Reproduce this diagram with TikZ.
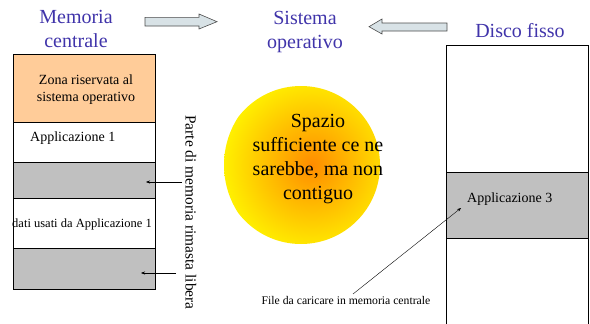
\documentclass[tikz,border=0pt]{standalone}
\usepackage{fontspec}
\setmainfont{Liberation Serif}
\usetikzlibrary{arrows.meta}
\definecolor{ttl}{RGB}{64,52,170}
\definecolor{osorange}{RGB}{255,204,153}
\definecolor{freegray}{RGB}{192,192,192}
\definecolor{barrow}{RGB}{216,226,230}
\tikzset{
  ttltext/.style={text=ttl,font=\fontsize{20}{24}\selectfont,align=center},
  cell/.style={draw=black,line width=0.8pt},
  small/.style={font=\fontsize{14}{17}\selectfont,align=center},
  ptr/.style={-{Stealth[length=4pt,width=3pt]},line width=0.4pt},
  blockarrow/.style={draw=black!70,fill=barrow,line width=0.6pt}
}
\begin{document}
\begin{tikzpicture}[x=1pt,y=-1pt]
\useasboundingbox (0,0) rectangle (590,324);
% titles
\node[ttltext] (tmem) at (76,29) {Memoria\\centrale};
\node[ttltext] (tos) at (305,32) {Sistema\\operativo};
\node[ttltext] (tdisk) at (520,31) {Disco fisso};
% block arrows
\draw[blockarrow] (145,17.3) -- (199,17.3) -- (199,14) -- (217,21.7) -- (199,29) -- (199,26) -- (145,26) -- cycle;
\draw[blockarrow] (447,23) -- (382,23) -- (382,19) -- (369,26.7) -- (382,34) -- (382,31) -- (447,31) -- cycle;
% memory column
\draw[cell,fill=osorange] (13,54) rectangle (155,122);
\draw[cell,fill=white] (13,122) rectangle (155,162);
\draw[cell,fill=freegray] (13,162) rectangle (155,198);
\draw[cell,fill=white] (13,198) rectangle (155,248);
\draw[cell,fill=freegray] (13,248) rectangle (155,289);
\node[small] (zona) at (86,90) {Zona riservata al\\sistema operativo};
\node[small,anchor=west,inner sep=0pt] (app1) at (30,138) {Applicazione 1};
\node[font=\fontsize{12.5}{14}\selectfont] (dati) at (82,224) {dati usati da Applicazione 1};
\coordinate (free1) at (146,182);
\coordinate (free2) at (141,273);
\coordinate (f1s) at (182,182);
\coordinate (f2s) at (176,273);
\draw[ptr] (f1s) -- (free1);
\draw[ptr] (f2s) -- (free2);
\node[rotate=-90,font=\fontsize{15.4}{17}\selectfont] (parte) at (191,212.5) {Parte di memoria rimasta libera};
% circle
\begin{scope}
\clip (301,165) circle (79);
\shade[inner color=orange!90!yellow,outer color=yellow!88!orange] (312,165) circle (88);
\end{scope}
\node[font=\fontsize{20}{24}\selectfont,align=center] (spazio) at (318,159) {Spazio\\sufficiente ce ne\\sarebbe, ma non\\contiguo};
% disk
\draw[cell,fill=white] (446,45) rectangle (588,330);
\draw[cell,fill=freegray] (446,172) rectangle (588,238);
\node[small,anchor=west,inner sep=0pt] (app3) at (467,199) {Applicazione 3};
\node[font=\fontsize{11.7}{13}\selectfont] (file) at (346,300) {File da caricare in memoria centrale};
\coordinate (fs) at (353,294);
\coordinate (ft) at (461,208);
\draw[ptr] (fs) -- (ft);
\end{tikzpicture}
\end{document}
